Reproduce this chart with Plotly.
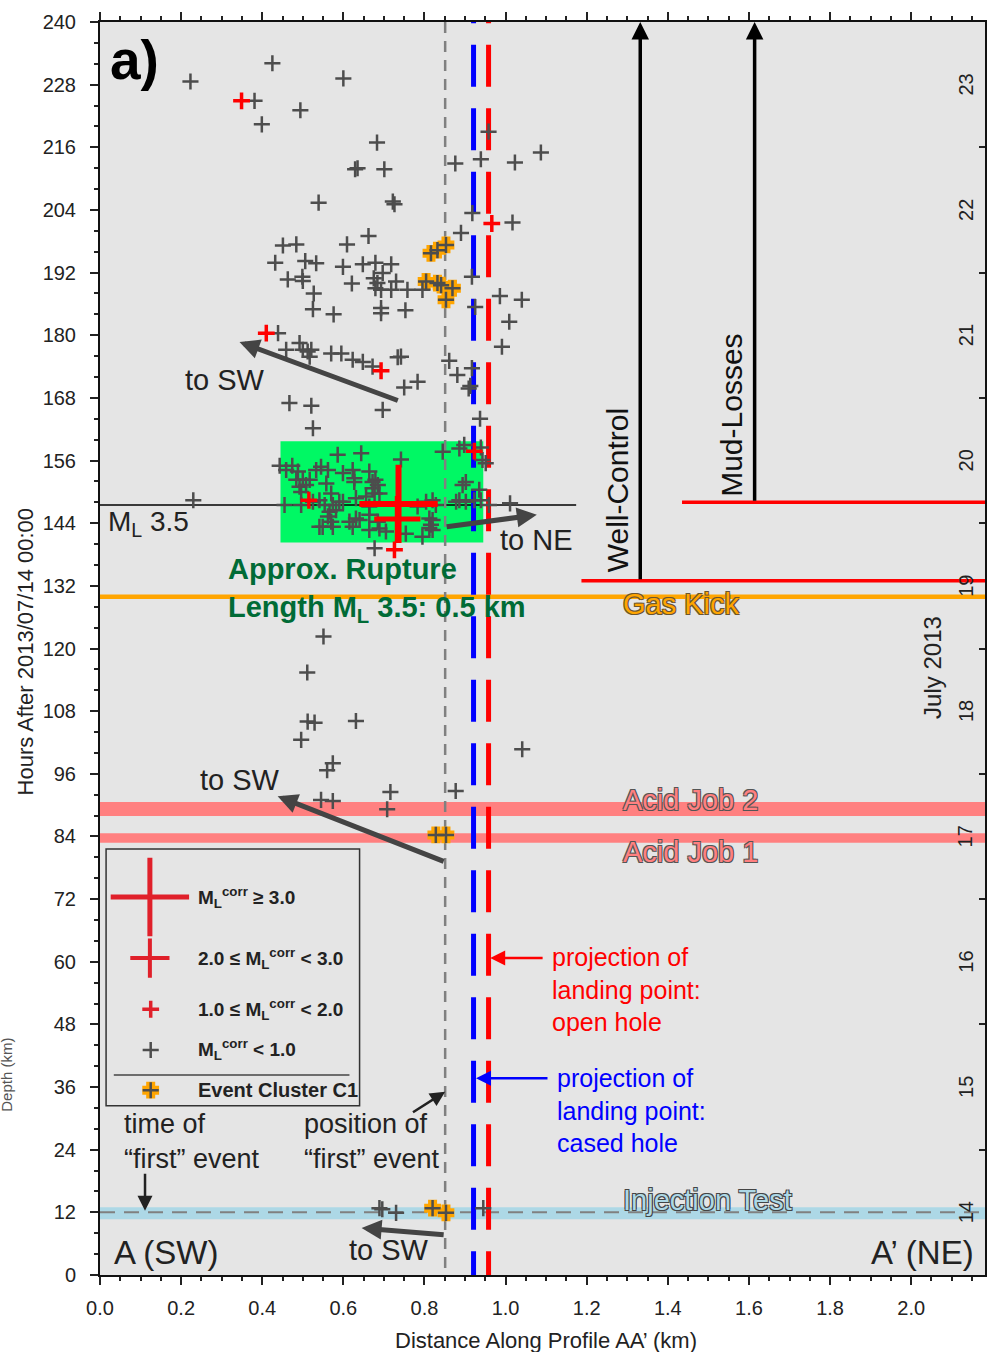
import plotly.graph_objects as go

FONT = "Liberation Sans, Arial, Helvetica, sans-serif"

# ---------------- data (km along profile, hours after 2013/07/14 00:00) -------------
gray_x = [0.223,0.425,0.600,0.381,0.494,0.399,0.683,0.629,0.635,0.701,0.539,0.722,0.726,0.662,
          0.451,0.484,0.609,0.432,0.506,0.533,0.599,0.648,0.679,0.718,0.463,0.499,0.500,0.621,
          0.675,0.684,0.679,0.697,0.693,0.718,0.730,0.758,0.795,0.527,0.525,0.576,0.693,0.693,
          0.753,0.890,0.917,0.925,0.958,0.876,0.939,1.023,1.087,0.918,1.017,0.986,1.040,1.009,
          0.991,0.734,0.742,0.750,0.783,0.697,0.861,0.881,0.917,0.909,0.913,0.937,
          0.439,0.459,0.492,0.500,0.512,0.521,0.517,0.570,0.595,0.623,0.648,0.672,
          0.467,0.521,0.525,0.230,
          0.443,0.474,0.488,0.484,0.500,0.517,0.533,0.562,0.586,0.644,0.623,0.627,0.558,0.664,
          0.679,0.685,0.672,0.742,0.496,0.455,0.496,0.541,0.554,0.570,0.574,0.590,0.599,0.566,
          0.582,0.631,0.656,0.664,0.689,0.549,0.570,0.574,0.615,0.623,0.640,0.664,0.689,0.705,
          0.783,0.804,0.820,0.828,0.754,0.795,0.816,0.820,0.677,0.845,0.886,0.898,0.894,0.902,
          0.878,0.886,0.902,0.923,0.939,0.935,0.951,0.959,0.939,0.943,1.011,0.812,0.492,0.508,
          0.459,0.545,0.525,0.562,0.541,0.631,0.664,0.685,0.599,0.627,0.672,0.677,0.812,0.820,
          0.551,0.511,0.512,0.529,0.631,0.496,0.574,0.560,0.545,0.574,0.716,0.708,0.877,1.041,
          0.689,0.696,0.730,0.945]
gray_h = [228.6,232.1,229.2,224.9,223.1,220.4,216.9,211.8,212.0,211.8,205.4,205.6,205.1,199.0,
          197.2,197.4,197.4,193.9,194.2,193.8,193.1,193.6,193.9,193.6,190.7,191.2,190.4,189.9,
          190.9,190.0,189.0,191.9,188.7,188.7,190.3,188.7,188.7,188.0,185.0,184.0,185.2,184.2,
          184.8,199.6,191.2,185.4,219.0,212.9,213.7,213.1,215.0,203.4,201.6,187.5,186.8,182.6,
          177.8,175.8,175.9,170.0,171.1,165.7,175.1,172.4,173.7,169.8,170.3,164.0,
          180.4,177.2,178.5,177.2,176.9,177.2,175.9,176.5,176.5,175.3,174.9,174.0,
          167.0,166.5,162.2,148.4,
          155.0,155.0,153.9,152.3,152.3,152.3,154.2,154.2,157.1,157.4,154.2,152.6,151.6,153.9,
          152.3,151.3,150.7,156.2,150.0,147.5,147.5,148.4,147.5,149.7,147.5,148.1,148.1,146.2,
          146.5,148.8,149.1,147.2,149.7,143.3,144.3,143.3,144.3,143.3,144.6,142.7,143.0,142.4,
          147.2,148.1,148.4,147.5,142.0,141.4,143.7,142.7,139.2,157.7,158.3,159.0,151.3,151.9,
          148.1,148.4,148.1,148.4,148.4,150.4,155.5,147.5,158.5,156.1,147.8,144.9,151.0,151.3,
          154.2,154.8,148.1,145.3,143.3,144.9,145.6,144.3,153.6,151.9,151.9,149.7,143.1,144.6,
          122.3,115.4,106.0,105.8,106.1,102.5,98.0,96.7,91.0,90.8,92.5,89.2,92.7,100.7,
          12.8,12.6,11.9,12.8]

cluster_x = [0.816,0.832,0.853,0.804,0.832,0.869,0.853,0.841,0.828,0.853,0.820,0.853]
cluster_h = [195.7,196.3,197.3,190.3,190.0,189.0,186.8,189.6,84.3,84.3,12.8,11.9]

red1_x = [0.349,0.410,0.693,0.515,0.726,0.923,0.966]
red1_h = [224.9,180.4,173.2,148.4,138.9,157.8,201.4]
red2_x = [0.733]
red2_h = [144.8]
red3_x = [0.736]
red3_h = [147.7]

# event times / positions (hours, km)
ml35_hour = 147.5
gas_kick_hour = 129.9
well_control_hour = 133.0
mud_losses_hour = 148.0
well_control_x = 1.332
mud_losses_x = 1.614
acid1 = (82.8, 84.6)
acid2 = (87.9, 90.6)
injection = (10.7, 13.0)
injection_hour = 12.0
first_event_x = 0.851
cased_hole_x = 0.921
open_hole_x = 0.958
rupture_x = (0.445, 0.945)
rupture_h = (140.3, 159.7)
day_labels = ["14","15","16","17","18","19","20","21","22","23"]
day_centers = [12,36,60,84,108,132,156,180,204,228]
x_ticks = [0.0,0.2,0.4,0.6,0.8,1.0,1.2,1.4,1.6,1.8,2.0]
y_ticks = list(range(0, 241, 12))

XMAX = 2.182
GRAY = "#4d4d4d"

fig = go.Figure()

def crosses(x, h, size, color, width, yaxis="y"):
    fig.add_trace(go.Scatter(x=x, y=h, mode="markers", hoverinfo="skip",
                             marker=dict(symbol="cross-thin", size=size,
                                         line=dict(color=color, width=width)),
                             yaxis=yaxis))

# events
crosses(cluster_x, cluster_h, 12, "#FFA500", 9)
crosses(gray_x, gray_h, 11.5, GRAY, 2.5)
crosses(cluster_x, cluster_h, 11.5, GRAY, 2.5)
crosses(red1_x, red1_h, 12, "#FF0000", 3.5)
crosses(red2_x, red2_h, 33, "#FF0000", 5)
crosses(red3_x, red3_h, 56, "#FF0000", 6)

# legend markers (inside the drawn legend box)
LRED = "#E0202A"
leg_x = 0.125
crosses([0.123], [72.4], 56, LRED, 5)
crosses([0.123], [60.7], 28, LRED, 4)
crosses([leg_x], [50.9], 12, LRED, 3.5)
crosses([leg_x], [43.1], 11.5, GRAY, 2.5)
crosses([leg_x], [35.4], 12, "#FFA500", 9)
crosses([leg_x], [35.4], 11.5, GRAY, 2.5)

# dummy trace for the right-hand day axis
fig.add_trace(go.Scatter(x=[None], y=[None], yaxis="y2", showlegend=False))

shapes = []
def hband(y0, y1, color, x0=0, x1=XMAX):
    shapes.append(dict(type="rect", xref="x", yref="y", x0=x0, x1=x1, y0=y0, y1=y1,
                       fillcolor=color, line=dict(width=0), layer="below"))
def hline(y, color, width, x0=0, x1=XMAX, dash="solid"):
    shapes.append(dict(type="line", xref="x", yref="y", x0=x0, x1=x1, y0=y, y1=y,
                       line=dict(color=color, width=width, dash=dash), layer="below"))
def vline(x, color, width, dash, y0=0, y1=240):
    shapes.append(dict(type="line", xref="x", yref="y", x0=x, x1=x, y0=y0, y1=y1,
                       line=dict(color=color, width=width, dash=dash), layer="below"))

hband(rupture_h[0], rupture_h[1], "#00F864", rupture_x[0], rupture_x[1])
hband(acid2[0], acid2[1], "#FF8080")
hband(acid1[0], acid1[1], "#FF8080")
hband(injection[0], injection[1], "#ADD8E6")
hline(injection_hour, "#808080", 2, dash="15px,9px")
hline(gas_kick_hour, "#FFA500", 4.5)
hline(well_control_hour, "#FF0000", 3.5, x0=1.187)
hline(mud_losses_hour, "#FF0000", 3.5, x0=1.435)
hline(ml35_hour, "#000000", 1.5, x1=1.174)
vline(first_event_x, "#808080", 2.5, "11px,8px", y0=240, y1=0)
vline(cased_hole_x, "#0000FF", 5, "42px,21.5px", y0=247.8, y1=0)
vline(open_hole_x, "#FF0000", 5, "42px,21.5px", y0=247.8, y1=0)
# legend box
shapes.append(dict(type="rect", xref="x", yref="y", x0=0.015, x1=0.640, y0=32.4, y1=81.6,
                   line=dict(color="#333333", width=1.5), fillcolor="rgba(0,0,0,0)", layer="below"))
hline(38.3, "#444444", 1.5, x0=0.034, x1=0.615)

ann = []
def text(x, y, t, size, color="#222222", xanchor="center", yanchor="middle", angle=0,
         bold=False, shadow=None, align="left", xref="x", yref="y"):
    f = dict(family=FONT, size=size, color=color)
    if bold:
        f["weight"] = "bold"
    if shadow:
        f["shadow"] = shadow
    ann.append(dict(x=x, y=y, xref=xref, yref=yref, text=t, showarrow=False, font=f,
                    xanchor=xanchor, yanchor=yanchor, textangle=angle, align=align))

def arrow(x_head, y_head, x_tail, y_tail, color, width, size=1.0, head=2):
    ann.append(dict(x=x_head, y=y_head, ax=x_tail, ay=y_tail, xref="x", yref="y",
                    axref="x", ayref="y", text="", showarrow=True, arrowhead=head,
                    arrowsize=size, arrowwidth=width, arrowcolor=color))

def outline(c):
    return f"1px 1px 0 {c}, -1px -1px 0 {c}, 1px -1px 0 {c}, -1px 1px 0 {c}"

AG = "#444444"
arrow(0.344, 178.7, 0.738, 167.4, AG, 5, 0.8)
arrow(0.438, 91.7, 0.851, 79.1, AG, 5, 0.8)
arrow(0.645, 9.0, 0.851, 7.7, AG, 5, 0.8)
arrow(1.077, 145.6, 0.851, 143.3, AG, 5, 0.8)
arrow(0.111, 12.3, 0.111, 19.7, "#222222", 2.5, 1.2)
arrow(0.851, 35.1, 0.768, 31.0, "#222222", 2.5, 1.2)
arrow(0.962, 60.7, 1.095, 60.7, "#FF0000", 2.5, 1.2)
arrow(0.927, 37.7, 1.107, 37.7, "#0000FF", 2.5, 1.2)
arrow(well_control_x, 240, well_control_x, well_control_hour, "#000000", 3.5, 1.0)
arrow(mud_losses_x, 240, mud_losses_x, mud_losses_hour, "#000000", 3.5, 1.0)

text(0.020, 232.7, "a)", 55, "#000000", xanchor="left", bold=True)
text(0.015, 144.0, "M<sub>L</sub> 3.5", 28, xanchor="left")
text(0.307, 171.4, "to SW", 29)
text(0.344, 94.8, "to SW", 29)
text(0.713, 4.8, "to SW", 29)
text(1.075, 140.8, "to NE", 29)
text(0.311, 131.2, "Approx. Rupture<br>Length M<sub>L</sub> 3.5: 0.5 km", 29, "#006B36",
     xanchor="left", bold=True)
text(1.284, 128.6, "Gas Kick", 29, "#FFA500", xanchor="left", shadow=outline("#6b5530"))
text(1.284, 91.0, "Acid Job 2", 29, "#FF8080", xanchor="left", shadow=outline("#555555"))
text(1.284, 81.0, "Acid Job 1", 29, "#FF8080", xanchor="left", shadow=outline("#555555"))
text(1.284, 14.4, "Injection Test", 29, "#ADD8E6", xanchor="left", shadow=outline("#444444"))
text(1.276, 150.4, "Well-Control", 30, "#111111", angle=-90)
text(1.555, 164.7, "Mud-Losses", 30, "#111111", angle=-90)
text(2.054, 116.3, "July 2013", 24, angle=-90)
for d, hc in zip(day_labels, day_centers):
    text(2.135, hc, d, 20, angle=-90)
text(1.110, 54.6, "projection of<br>landing point:<br>open hole", 25, "#FF0000", xanchor="left")
text(1.122, 31.6, "projection of<br>landing point:<br>cased hole", 25, "#0000FF", xanchor="left")
text(0.055, 25.5, "time of<br>“first” event", 27, xanchor="left")
text(0.497, 25.5, "position of<br>“first” event", 27, xanchor="left")
text(0.030, 4.4, "A (SW)", 33, xanchor="left")
text(2.159, 4.4, "A’ (NE)", 33, xanchor="right")
# legend labels
LX = 0.236
text(LX, 72.4, "M<sub>L</sub><sup>corr</sup> ≥ 3.0", 19, "#222222", xanchor="left", bold=True)
text(LX, 60.7, "2.0 ≤ M<sub>L</sub><sup>corr</sup> < 3.0", 19, "#222222", xanchor="left", bold=True)
text(LX, 50.9, "1.0 ≤ M<sub>L</sub><sup>corr</sup> < 2.0", 19, "#222222", xanchor="left", bold=True)
text(LX, 43.1, "M<sub>L</sub><sup>corr</sup> < 1.0", 19, "#222222", xanchor="left", bold=True)
text(LX, 35.4, "Event Cluster C1", 20, "#222222", xanchor="left", bold=True)
# axis titles
text(-0.0846, 0.497, "Hours After 2013/07/14 00:00", 22, angle=-90, xref="paper", yref="paper")
text(0.504, -0.052, "Distance Along Profile AA’ (km)", 22, xref="paper", yref="paper")
text(-0.106, 0.16, "Depth (km)", 15, "#555555", angle=-90, xref="paper", yref="paper")

fig.update_layout(
    width=991, height=1352,
    margin=dict(l=100, r=4, t=22, b=77),
    plot_bgcolor="#e5e5e5", paper_bgcolor="white",
    showlegend=False, shapes=shapes, annotations=ann,
    font=dict(family=FONT, color="#222222"),
    xaxis=dict(range=[0, XMAX], tickvals=x_ticks, ticktext=[f"{v:.1f}" for v in x_ticks],
               ticks="outside", ticklen=8, tickwidth=1.5, tickcolor="#222222",
               ticklabelstandoff=6,
               minor=dict(dtick=0.05, tick0=0, ticks="outside", ticklen=4, tickcolor="#222222"),
               showline=True, linewidth=2, linecolor="#111111", mirror="ticks",
               showgrid=False, zeroline=False, tickfont=dict(size=20, family=FONT)),
    yaxis=dict(range=[0, 240], tickvals=y_ticks, ticks="outside", ticklen=8, tickwidth=1.5,
               tickcolor="#222222", ticklabelstandoff=10,
               minor=dict(dtick=4, tick0=0, ticks="outside", ticklen=4, tickcolor="#222222"),
               showline=True, linewidth=2, linecolor="#111111", mirror=True,
               showgrid=False, zeroline=False, tickfont=dict(size=20, family=FONT)),
    yaxis2=dict(range=[0, 240], overlaying="y", side="right", tickvals=list(range(0, 241, 24)),
                ticks="inside", ticklen=6, tickwidth=1.5, tickcolor="#222222",
                showticklabels=False, showline=False, showgrid=False, zeroline=False),
)

fig.write_html("out.html")
